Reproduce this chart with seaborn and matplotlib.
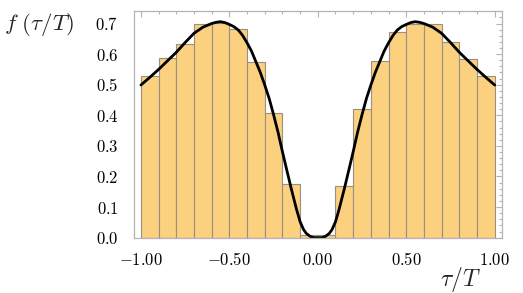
import numpy as np
import pandas as pd
import matplotlib
matplotlib.use("Agg")
import matplotlib.pyplot as plt
import seaborn as sns
from matplotlib.ticker import MultipleLocator, FixedLocator, FuncFormatter

# ---- data ----
bin_edges = [-1.0, -0.9, -0.8, -0.7, -0.6, -0.5, -0.4, -0.3, -0.2, -0.1, 0.0,
             0.1, 0.2, 0.3, 0.4, 0.5, 0.6, 0.7, 0.8, 0.9, 1.0]
bar_heights = [0.528, 0.586, 0.634, 0.700, 0.701, 0.681, 0.575, 0.408, 0.175, 0.008,
               0.008, 0.169, 0.420, 0.576, 0.672, 0.700, 0.697, 0.638, 0.583, 0.527]

curve_x = [-1.0, -0.95, -0.9, -0.85, -0.8, -0.75, -0.7, -0.65, -0.6, -0.575, -0.55,
           -0.525, -0.5, -0.475, -0.45, -0.425, -0.4, -0.375, -0.35, -0.325, -0.3,
           -0.275, -0.25, -0.225, -0.2, -0.175, -0.15, -0.12, -0.1, -0.08, -0.065,
           -0.045, -0.03, -0.015, 0.0,
           0.015, 0.03, 0.045, 0.065, 0.08, 0.1, 0.12, 0.15, 0.175, 0.2, 0.225, 0.25,
           0.275, 0.3, 0.325, 0.35, 0.375, 0.4, 0.425, 0.45, 0.475, 0.5, 0.525, 0.55,
           0.575, 0.6, 0.65, 0.7, 0.75, 0.8, 0.85, 0.9, 0.95, 1.0]
curve_y = [0.499, 0.524, 0.550, 0.578, 0.606, 0.638, 0.668, 0.688, 0.700, 0.704, 0.706,
           0.703, 0.697, 0.690, 0.679, 0.661, 0.637, 0.610, 0.575, 0.540, 0.499,
           0.455, 0.402, 0.345, 0.281, 0.220, 0.160, 0.092, 0.052, 0.026, 0.014,
           0.005, 0.001, 0.0, 0.0,
           0.0, 0.001, 0.005, 0.014, 0.026, 0.052, 0.092, 0.160, 0.220, 0.281, 0.345, 0.402,
           0.455, 0.499, 0.540, 0.575, 0.610, 0.637, 0.661, 0.679, 0.690, 0.697, 0.703, 0.706,
           0.704, 0.700, 0.688, 0.668, 0.638, 0.606, 0.578, 0.550, 0.524, 0.499]

x_ticks = [-1.0, -0.5, 0.0, 0.5, 1.0]
y_ticks = [0.0, 0.1, 0.2, 0.3, 0.4, 0.5, 0.6, 0.7]

# ---- style ----
sns.set_theme(style="white")
plt.rcParams["mathtext.fontset"] = "cm"
plt.rcParams["font.family"] = ["DejaVu Serif"]

fig = plt.figure(figsize=(5.23, 2.93), dpi=100)
ax = fig.add_axes([0.2556, 0.1867, 0.7048, 0.7758])

centers = [(bin_edges[i] + bin_edges[i + 1]) / 2 for i in range(len(bar_heights))]
df_bars = pd.DataFrame({"x": centers, "w": bar_heights})
sns.histplot(data=df_bars, x="x", weights="w", bins=bin_edges, ax=ax,
             color="#FBD07F", edgecolor="#9A9080", linewidth=0.8, alpha=1.0)

df_curve = pd.DataFrame({"x": curve_x, "y": curve_y})
sns.lineplot(data=df_curve, x="x", y="y", ax=ax, color="black", linewidth=2.0,
             estimator=None, sort=False)

ax.set_xlim(-1.041, 1.043)
ax.set_ylim(-0.002, 0.741)
ax.set_xlabel("")
ax.set_ylabel("")

frame_col = "#b4b4b4"
for s in ax.spines.values():
    s.set_color(frame_col)
    s.set_linewidth(0.9)

ax.xaxis.set_major_locator(FixedLocator(x_ticks))
ax.xaxis.set_minor_locator(MultipleLocator(0.1))
ax.yaxis.set_major_locator(FixedLocator(y_ticks))
ax.yaxis.set_minor_locator(MultipleLocator(0.02))
ax.xaxis.set_major_formatter(FuncFormatter(lambda v, p: r"$%.2f$" % v if abs(v) > 1e-9 else r"$0.00$"))
ax.yaxis.set_major_formatter(FuncFormatter(lambda v, p: r"$%.1f$" % v if abs(v) > 1e-9 else r"$0.0$"))

ax.tick_params(which="both", direction="in", color=frame_col, top=True, right=True,
               labelsize=12, labelcolor="black", width=0.8)
ax.tick_params(which="major", length=4)
ax.tick_params(which="minor", length=2.2)
ax.tick_params(axis="y", which="major", pad=11)
ax.tick_params(axis="x", which="major", pad=10)
ax.grid(False)

fig.text(0.008, 1 - 25 / 293, r"$f\ (\tau/T)$", fontsize=16.5, ha="left", va="center")
fig.text(460 / 523, 1 - 279 / 293, r"$\tau/T$", fontsize=17, ha="center", va="center")

fig.savefig("out.png", dpi=100)
